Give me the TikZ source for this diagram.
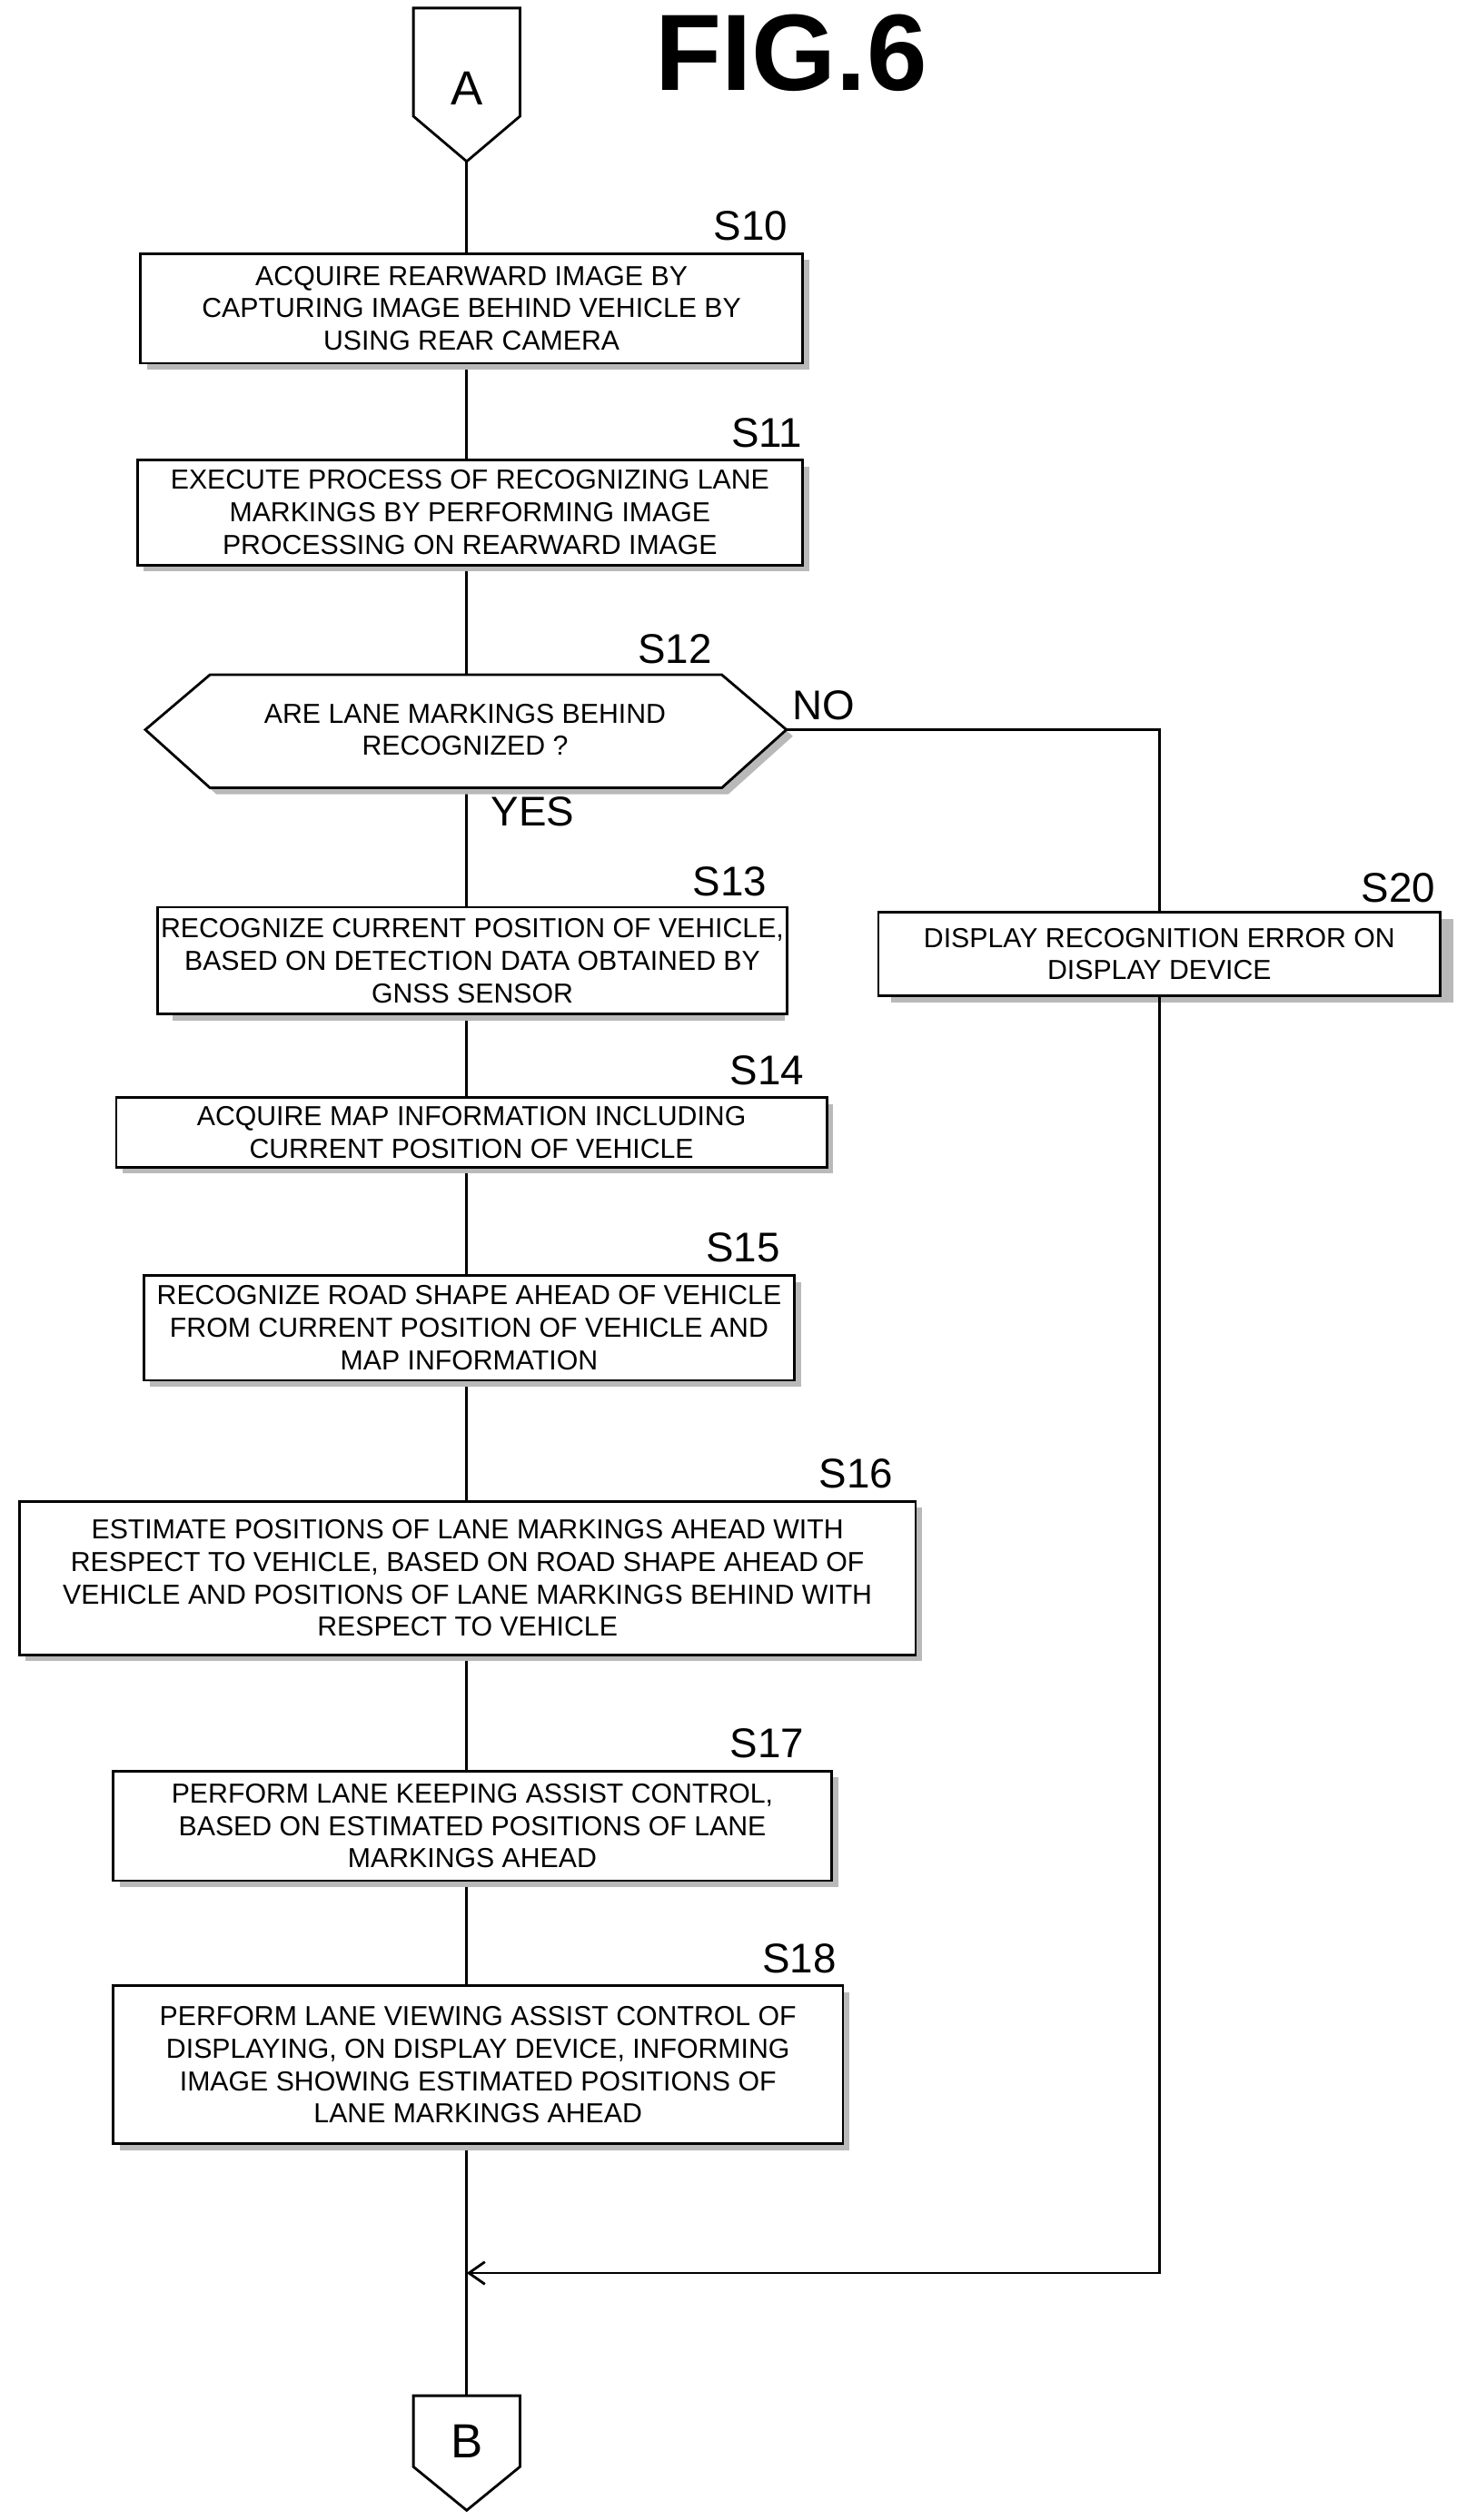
\documentclass[tikz,border=0pt]{standalone}
\usepackage{fontspec}
\setmainfont{Liberation Sans}
\usetikzlibrary{shapes,positioning,arrows.meta}
\begin{document}
\begin{tikzpicture}[x=0.01776cm,y=-0.01776cm,thick,
    font=\fontsize{8.6}{10.2}\selectfont,
    box/.style={draw,rectangle,fill=white,align=center,inner sep=1pt},
    steplabel/.style={font=\fontsize{13}{13}\selectfont}]

\useasboundingbox (0,0) rectangle (908,1561);

% Title
\node[font=\fontsize{34}{34}\selectfont\bfseries] (title) at (490,33) {FIG.6};

% Connectors
\draw[fill=white] (256,5) -- (322,5) -- (322,72) -- (289,100) -- (256,72) -- cycle;
\node (A) at (289,55) {\fontsize{15}{15}\selectfont A};
\coordinate (Abot) at (289,100);
\draw[fill=white] (256,1484) -- (322,1484) -- (322,1528) -- (289,1555) -- (256,1528) -- cycle;
\node (B) at (289,1512) {\fontsize{15}{15}\selectfont B};
\coordinate (Btop) at (289,1484);

% Main line
\draw (Abot) -- (Btop);

% Steps
\fill[gray!55] (91,161) rectangle (501,229);
\node[box,minimum width=410*0.01776cm,minimum height=68*0.01776cm] (s10) at (292,191)
  {ACQUIRE REARWARD IMAGE BY\\CAPTURING IMAGE BEHIND VEHICLE BY\\USING REAR CAMERA};
\fill[gray!55] (89,289) rectangle (501,354);
\node[box,minimum width=412*0.01776cm,minimum height=65*0.01776cm] (s11) at (291,317.5)
  {EXECUTE PROCESS OF RECOGNIZING LANE\\MARKINGS BY PERFORMING IMAGE\\PROCESSING ON REARWARD IMAGE};
\fill[gray!55] (94,456) -- (134,422) -- (451,422) -- (491,456) -- (451,492) -- (134,492) -- cycle;
\draw[fill=white] (90,452) -- (130,418) -- (447,418) -- (487,452) -- (447,488) -- (130,488) -- cycle;
\node[align=center] (s12) at (288,452) {ARE LANE MARKINGS BEHIND\\RECOGNIZED ?};
\coordinate (s12r) at (487,452);
\fill[gray!55] (107,566) rectangle (486,632);
\node[box,minimum width=379*0.01776cm,minimum height=66*0.01776cm] (s13) at (292.5,595)
  {RECOGNIZE CURRENT POSITION OF VEHICLE,\\BASED ON DETECTION DATA OBTAINED BY\\GNSS SENSOR};
\fill[gray!55] (76,684) rectangle (516,727);
\node[box,minimum width=440*0.01776cm,minimum height=43*0.01776cm] (s14) at (292,701.5)
  {ACQUIRE MAP INFORMATION INCLUDING\\CURRENT POSITION OF VEHICLE};
\fill[gray!55] (93,794) rectangle (496,859);
\node[box,minimum width=403*0.01776cm,minimum height=65*0.01776cm] (s15) at (290.5,822.5)
  {RECOGNIZE ROAD SHAPE AHEAD OF VEHICLE\\FROM CURRENT POSITION OF VEHICLE AND\\MAP INFORMATION};
\fill[gray!55] (16,934) rectangle (571,1029);
\node[box,minimum width=555*0.01776cm,minimum height=95*0.01776cm] (s16) at (289.5,977.5)
  {ESTIMATE POSITIONS OF LANE MARKINGS AHEAD WITH\\RESPECT TO VEHICLE, BASED ON ROAD SHAPE AHEAD OF\\VEHICLE AND POSITIONS OF LANE MARKINGS BEHIND WITH\\RESPECT TO VEHICLE};
\fill[gray!55] (74,1101) rectangle (519,1169);
\node[box,minimum width=445*0.01776cm,minimum height=68*0.01776cm] (s17) at (292.5,1131)
  {PERFORM LANE KEEPING ASSIST CONTROL,\\BASED ON ESTIMATED POSITIONS OF LANE\\MARKINGS AHEAD};
\fill[gray!55] (74,1234) rectangle (526,1332);
\node[box,minimum width=452*0.01776cm,minimum height=98*0.01776cm] (s18) at (296,1279)
  {PERFORM LANE VIEWING ASSIST CONTROL OF\\DISPLAYING, ON DISPLAY DEVICE, INFORMING\\IMAGE SHOWING ESTIMATED POSITIONS OF\\LANE MARKINGS AHEAD};
\fill[gray!55] (552,569) rectangle (900,621);
\node[box,minimum width=348*0.01776cm,minimum height=52*0.01776cm] (s20) at (718,591)
  {DISPLAY RECOGNITION ERROR ON\\DISPLAY DEVICE};

% Step labels
\node[steplabel] (l10) at (465,140) {S10};
\node[steplabel] (l11) at (475,268) {S11};
\node[steplabel] (l12) at (418,402) {S12};
\node[steplabel] (l13) at (452,546) {S13};
\node[steplabel] (l14) at (475,663) {S14};
\node[steplabel] (l15) at (460,773) {S15};
\node[steplabel] (l16) at (530,913) {S16};
\node[steplabel] (l17) at (475,1080) {S17};
\node[steplabel] (l18) at (495,1213) {S18};
\node[steplabel] (l20) at (866,550) {S20};
\node[steplabel] (no) at (510,437) {NO};
\node[steplabel] (yes) at (330,503) {YES};

% Branch
\coordinate (merge) at (289,1408);
\draw (s12r) -| (s20.north);
\draw[-{Straight Barb[length=5pt,width=7pt]}] (s20.south) |- (merge);
\end{tikzpicture}
\end{document}
